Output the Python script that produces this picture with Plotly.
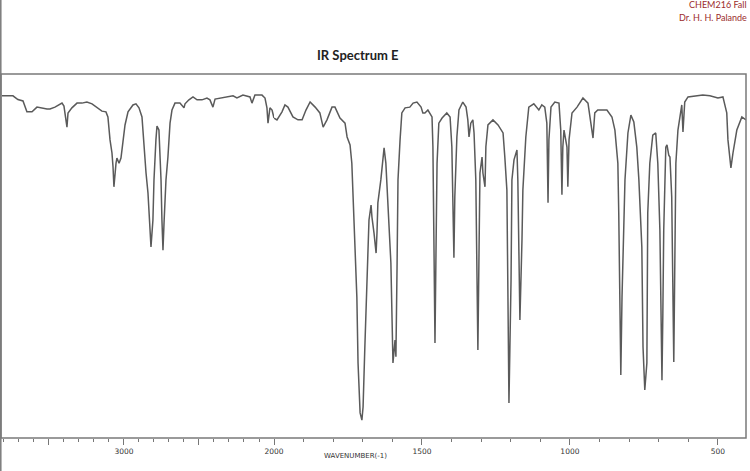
import plotly.graph_objects as go

# Wavenumber (cm-1) and %transmittance
wavenumber = [3813, 3740, 3707, 3673, 3647, 3613, 3580, 3560, 3513, 3493, 3460, 3413, 3400, 3380, 3373,
              3347, 3313, 3280, 3247, 3213, 3180, 3147, 3120, 3107, 3093, 3080, 3073, 3067, 3053, 3047,
              3033, 3020, 3007, 2993, 2973, 2940, 2920, 2900, 2880, 2873, 2853, 2840, 2827, 2820, 2807,
              2800, 2787, 2780, 2767, 2753, 2747, 2740, 2733, 2720, 2707, 2700, 2693, 2680, 2660, 2627,
              2600, 2593, 2567, 2540, 2513, 2480, 2447, 2427, 2407, 2393, 2313, 2273, 2247, 2207, 2160,
              2147, 2127, 2080, 2060, 2047, 2040, 2027, 2013, 2000,
              1990, 1973, 1963, 1953, 1936, 1919, 1905, 1892, 1878, 1861, 1845, 1834, 1821, 1804, 1794,
              1777, 1760, 1753, 1743, 1737, 1733, 1726, 1720, 1716, 1709, 1703, 1699, 1693, 1686, 1682,
              1679, 1672, 1669, 1662, 1655, 1652, 1649, 1639, 1632, 1628, 1622, 1618, 1612, 1605, 1601,
              1598, 1591, 1588, 1584, 1581, 1574, 1568, 1557, 1541, 1530, 1517, 1503, 1497, 1490, 1480,
              1466, 1463, 1460, 1456, 1453, 1449, 1443, 1432, 1416, 1405, 1399, 1395, 1392, 1389, 1382,
              1375, 1362, 1351, 1345, 1341, 1335, 1328, 1324, 1318, 1314, 1311, 1307, 1304, 1297, 1294,
              1287, 1284, 1277, 1260, 1243, 1226, 1220, 1213, 1210, 1206, 1199, 1196, 1189, 1179, 1176,
              1169, 1162, 1159, 1149, 1139, 1122, 1105, 1095, 1085, 1078, 1074, 1071, 1064, 1051, 1037,
              1031, 1027, 1024, 1020, 1010, 1007, 1003, 993, 976, 956, 939, 929, 922, 916, 906,
              875, 858, 848, 838, 835, 831, 828, 824, 818, 814, 804, 794, 784, 774, 767,
              757, 753, 747, 740, 737, 730, 720, 710, 703, 696, 689, 686, 683, 676, 672,
              666, 662, 656, 652, 649, 645, 642, 635, 622, 618, 612, 601, 571, 551, 527,
              500, 483, 470, 466, 459, 456, 449, 436, 419, 405]

transmittance = [94.0, 94.0, 93.0, 92.6, 89.6, 89.6, 90.9, 90.7, 90.4, 90.4, 90.9, 92.0, 91.2, 85.4, 89.3,
                 90.7, 92.0, 92.0, 92.3, 91.8, 90.7, 89.8, 89.6, 88.2, 81.9, 78.3, 74.5, 69.0, 75.5, 76.9,
                 75.5, 76.9, 81.3, 86.0, 89.6, 91.5, 91.8, 90.7, 88.2, 83.8, 72.8, 67.3, 58.0, 52.5, 59.9,
                 70.9, 81.9, 85.7, 84.6, 70.9, 59.9, 51.6, 59.1, 70.9, 77.2, 82.4, 86.5, 90.1, 92.0, 92.0,
                 90.7, 91.8, 92.9, 93.7, 92.9, 92.9, 93.4, 92.9, 90.9, 93.1, 93.7, 94.0, 93.4, 94.2, 93.7,
                 92.0, 94.2, 94.2, 93.4, 90.7, 86.5, 90.7, 90.1, 87.9,
                 87.4, 89.6, 91.5, 90.9, 88.2, 87.4, 87.4, 90.1, 92.3, 90.9, 89.3, 85.4, 87.4, 90.9, 90.9,
                 87.9, 86.5, 82.7, 80.5, 75.5, 66.2, 54.4, 38.7, 20.6, 6.9, 4.9, 8.5, 25.0, 43.4, 52.5,
                 59.9, 64.0, 60.7, 56.3, 50.8, 56.3, 64.6, 70.9, 77.2, 79.7, 75.5, 69.0, 59.9, 48.1, 32.4,
                 20.6, 26.9, 22.3, 48.1, 70.9, 81.9, 89.3, 90.7, 90.9, 92.0, 92.3, 90.9, 89.3, 89.3, 90.1,
                 88.2, 80.0, 57.1, 26.1, 48.1, 75.5, 86.5, 87.9, 89.3, 88.2, 80.0, 61.8, 49.5, 66.2, 82.7,
                 90.1, 92.3, 90.9, 87.4, 82.7, 86.5, 87.4, 83.8, 70.9, 50.8, 24.2, 52.5, 72.8, 77.2, 72.8,
                 69.0, 80.0, 86.0, 87.4, 86.0, 83.8, 77.2, 68.1, 43.4, 9.6, 43.4, 70.9, 76.4, 79.1, 70.9,
                 32.4, 54.4, 68.1, 82.7, 90.9, 91.8, 90.1, 91.5, 90.9, 86.5, 64.6, 81.9, 90.9, 92.3, 92.0,
                 84.6, 66.8, 79.9, 84.6, 79.9, 69.0, 81.9, 89.3, 90.9, 93.4, 92.0, 86.5, 82.4, 89.3, 90.1,
                 90.1, 88.2, 84.6, 75.5, 61.8, 37.9, 17.3, 38.7, 61.8, 70.9, 83.8, 88.7, 86.8, 79.9, 70.9,
                 52.5, 25.0, 13.2, 20.6, 61.8, 75.5, 83.2, 83.8, 75.5, 57.1, 15.9, 34.3, 57.1, 79.9, 80.5,
                 77.7, 77.2, 66.2, 38.7, 20.9, 52.5, 75.5, 84.6, 91.5, 84.1, 92.3, 93.7, 94.0, 94.2, 94.0,
                 93.4, 93.7, 89.3, 81.9, 76.4, 74.2, 78.3, 84.6, 88.2, 87.4]

# Axis break at 2000 cm-1 (scale change, as on the original spectrum)
high_ticks = [3500, 3000, 2500]
high_labels = ["", "3000", ""]
low_ticks = [2000, 1500, 1000, 500]
low_labels = ["2000", "1500", "1000", "500"]

W, H = 750, 471
def px(x):
    return x / W
def py(y):
    return 1 - y / H

hi_x = [w for w in wavenumber if w >= 2000]
hi_y = [t for w, t in zip(wavenumber, transmittance) if w >= 2000]
lo_x = [w for w in wavenumber if w <= 2000]
lo_y = [t for w, t in zip(wavenumber, transmittance) if w <= 2000]

line_style = dict(color="#5a5a5a", width=1.5)
fig = go.Figure()
fig.add_trace(go.Scatter(x=hi_x, y=hi_y, mode="lines", line=line_style, xaxis="x", yaxis="y",
                         showlegend=False, hoverinfo="x+y"))
fig.add_trace(go.Scatter(x=lo_x, y=lo_y, mode="lines", line=line_style, xaxis="x2", yaxis="y",
                         showlegend=False, hoverinfo="x+y"))

tickfont = dict(family="DejaVu Sans", size=7.5, color="#333")
common = dict(showgrid=False, zeroline=False, showline=False, ticks="outside", ticklen=6,
              tickcolor="#777", tickwidth=1, tickmode="array", tickfont=tickfont, automargin=False,
              minor=dict(ticks="outside", ticklen=3, tickcolor="#777", tickmode="linear",
                         tick0=0, dtick=100))

fig.update_layout(
    width=W, height=H,
    margin=dict(l=0, r=0, t=0, b=0, pad=0, autoexpand=False),
    showlegend=False,
    paper_bgcolor="white", plot_bgcolor="white",
    xaxis=dict(domain=[px(2), px(274)], range=[3813, 2000], anchor="y",
               tickvals=high_ticks, ticktext=high_labels, **common),
    xaxis2=dict(domain=[px(274), px(746)], range=[2000, 405], anchor="y",
                tickvals=low_ticks, ticktext=low_labels, **common),
    yaxis=dict(domain=[py(438), py(74)], range=[0, 100], anchor="x", automargin=False,
               showgrid=False, zeroline=False, showline=False, showticklabels=False, ticks=""),
    shapes=[
        dict(type="rect", xref="paper", yref="paper", x0=px(1), x1=px(746), y0=py(438), y1=py(74),
             line=dict(color="#7a7a7a", width=1.5)),
        dict(type="line", xref="paper", yref="paper", x0=px(0.8), x1=px(0.8), y0=0, y1=1,
             line=dict(color="#7a7a7a", width=1.5)),
    ],
    annotations=[
        dict(text="<b>IR Spectrum E</b>", xref="paper", yref="paper", x=px(358), y=py(45),
             showarrow=False, font=dict(family="Lato", size=13, color="#222")),
        dict(text="CHEM216 Fall", xref="paper", yref="paper", x=px(749), y=py(5),
             xanchor="right", yanchor="middle", showarrow=False,
             font=dict(family="Lato", size=9, color="#9b2c2c")),
        dict(text="Dr. H. H. Palande", xref="paper", yref="paper", x=px(749), y=py(18),
             xanchor="right", yanchor="middle", showarrow=False,
             font=dict(family="Lato", size=9, color="#9b2c2c")),
        dict(text="WAVENUMBER(-1)", xref="paper", yref="paper", x=px(355), y=py(462),
             showarrow=False, font=dict(family="DejaVu Sans", size=7, color="#333")),
    ],
)

post = (
    "var gd=document.getElementById('{plot_id}');"
    "document.documentElement.style.margin='0';"
    "document.documentElement.style.overflow='hidden';"
    "document.body.style.margin='0';"
    "document.body.style.padding='0';"
    "document.body.style.overflow='hidden';"
    "gd.style.position='absolute';gd.style.left='0px';gd.style.top='0px';"
    "Plotly.relayout(gd,{width:750,height:471});"
)

fig.write_html("out.html", config={"displayModeBar": False, "responsive": False},
               post_script=post)
